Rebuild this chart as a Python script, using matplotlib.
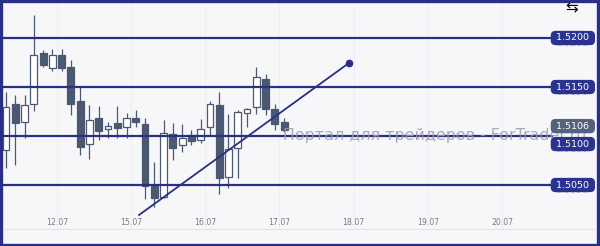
import matplotlib
matplotlib.use("Agg")
import matplotlib.pyplot as plt
from matplotlib.patches import Rectangle
from matplotlib.transforms import blended_transform_factory

# ===============================
# Data (3-hour candles)
# ===============================
opens = [1.50857, 1.51327, 1.51143, 1.51327, 1.51847, 1.51694, 1.51827, 1.51704,
         1.51357, 1.50918, 1.51184, 1.51071, 1.51133, 1.51092, 1.51184, 1.51122,
         1.50490, 1.50378, 1.51020, 1.50908, 1.51010, 1.50959, 1.51092, 1.51316,
         1.50582, 1.50878, 1.51235, 1.51296, 1.51582, 1.51276, 1.51143]
highs = [1.51449, 1.51418, 1.51418, 1.52235, 1.51878, 1.51888, 1.51888, 1.51776,
         1.51500, 1.51316, 1.51306, 1.51143, 1.51306, 1.51235, 1.51265, 1.51184,
         1.50735, 1.51163, 1.51133, 1.51122, 1.51061, 1.51173, 1.51357, 1.51449,
         1.51224, 1.51265, 1.51286, 1.51704, 1.51633, 1.51327, 1.51184]
lows = [1.50673, 1.50704, 1.50980, 1.51255, 1.51704, 1.51663, 1.51663, 1.51214,
        1.50806, 1.50765, 1.50959, 1.50980, 1.50980, 1.50980, 1.51092, 1.50357,
        1.50276, 1.50367, 1.50755, 1.50837, 1.50908, 1.50929, 1.51010, 1.50408,
        1.50469, 1.50571, 1.51092, 1.51224, 1.51214, 1.51061, 1.51041]
closes = [1.51296, 1.51133, 1.51316, 1.51827, 1.51724, 1.51827, 1.51694, 1.51327,
          1.50888, 1.51163, 1.51051, 1.51102, 1.51082, 1.51184, 1.51143, 1.50490,
          1.50367, 1.51031, 1.50878, 1.50980, 1.50949, 1.51071, 1.51327, 1.50571,
          1.50867, 1.51245, 1.51276, 1.51602, 1.51276, 1.51122, 1.51060]

levels = [1.5200, 1.5150, 1.5100, 1.5050]
level_labels = ["1.5200", "1.5150", "1.5100", "1.5050"]
last_price = 1.5106
last_label = "1.5106"

date_labels = ["12.07", "15.07", "16.07", "17.07", "18.07", "19.07", "20.07"]
date_pos = [5.5, 13.5, 21.5, 29.5, 37.5, 45.5, 53.5]

trend_x = [14.35, 37.0]
trend_y = [1.50194, 1.51745]

watermark = "Портал для трейдеров - ForTrader.ru"

# ===============================
# Styles
# ===============================
BG = "#f7f7f9"
NAVY = "#2a2f86"
BOX = "#2b3391"
CANDLE = "#4a5872"
W, H = 600, 246

fig = plt.figure(figsize=(6, 2.46), dpi=100)
fig.patch.set_facecolor(BG)

# plot area in pixels: x 3..596, y 3..229
ax = fig.add_axes([3 / W, (H - 229) / H, 593 / W, 226 / H])
ax.set_facecolor(BG)
ax.axis("off")

step = 9.27
ax.set_xlim(-3 / step, 590 / step)
ax.set_ylim(1.51 - 93 / 9800, 1.51 + 133 / 9800)

# faint day separators
for p in date_pos:
    ax.axvline(p, color="#eeeff4", lw=0.8, zorder=0)

# candles
for i, (o, h, l, c) in enumerate(zip(opens, highs, lows, closes)):
    ax.vlines(i, l, h, color=CANDLE, lw=0.9, zorder=2)
    bull = c >= o
    ax.add_patch(Rectangle((i - 0.37, min(o, c)), 0.74, abs(c - o),
                           facecolor="white" if bull else CANDLE,
                           edgecolor=CANDLE, lw=0.9, zorder=3))

# levels
for lv in levels:
    ax.axhline(lv, xmin=0, xmax=0.925, color=NAVY, lw=1.6, zorder=4)

# trend line
ax.plot(trend_x, trend_y, color=NAVY, lw=1.3, zorder=5)
ax.plot(trend_x[-1], trend_y[-1], "o", color=NAVY, ms=4.5, zorder=5)

# watermark
ax.text(29.9, 1.5101, watermark, fontsize=11.4, color="#9c9ca8", alpha=0.85,
        va="center", ha="left", zorder=6)

# date labels
tr = blended_transform_factory(ax.transData, ax.transAxes)
for p, lab in zip(date_pos, date_labels):
    ax.text(p, 0.028, lab, transform=tr, fontsize=5.6, color="#7a7a82",
            ha="center", va="center", zorder=6)
fig.add_artist(plt.Line2D([3 / W, 596 / W], [(H - 229) / H] * 2,
                          color="#e2e3e8", lw=0.8))

# price boxes
bx = 0.961
trp = blended_transform_factory(ax.transAxes, ax.transData)
for lv, lab in zip(levels, level_labels):
    dy = -5.8 if lab == "1.5100" else 0
    ax.annotate(lab, (bx, lv), xycoords=trp, xytext=(0, dy - 3.6),
                textcoords="offset points", fontsize=6.8, color="#b4b4c0",
                ha="center", va="center", zorder=7)
    ax.annotate(" " + lab + " ", (bx, lv), xycoords=trp, xytext=(0, dy),
                textcoords="offset points", fontsize=6.8, color="white",
                ha="center", va="center", zorder=9,
                bbox=dict(boxstyle="round,pad=0.28,rounding_size=0.5",
                          fc=BOX, ec="none"))
ax.annotate(" " + last_label + " ", (bx, last_price), xycoords=trp,
            xytext=(0, 2.9), textcoords="offset points", fontsize=6.8,
            color="white", ha="center", va="center", zorder=8,
            bbox=dict(boxstyle="round,pad=0.28,rounding_size=0.5",
                      fc="#56627d", ec="none"))

# icon top right
fig.text(572 / W, 1 - 8 / H, "⇆", fontsize=11, color="black",
         ha="center", va="center")

# frame
fig.add_artist(Rectangle((0.002, 0.004), 0.994, 0.99, transform=fig.transFigure,
                         fill=False, edgecolor=NAVY, lw=2.4))

fig.savefig("out.png", dpi=100, facecolor=BG)
